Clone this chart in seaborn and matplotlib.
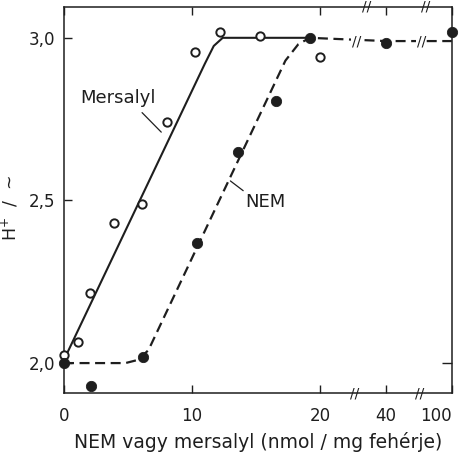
import numpy as np
import pandas as pd
import seaborn as sns
import matplotlib.pyplot as plt

# mért pontok (leolvasva)
mers_x = [0, 1.1, 2.0, 3.9, 6.1, 8.05, 10.2, 12.2, 15.3, 20.1]
mers_y = [2.025, 2.065, 2.215, 2.43, 2.49, 2.74, 2.957, 3.018, 3.006, 2.94]
nem_x = [0, 2.1, 6.2, 10.4, 13.6, 16.6, 19.2, 40, 100]
nem_y = [2.0, 1.93, 2.018, 2.37, 2.65, 2.806, 3.0, 2.985, 3.018]

# illesztett görbék töréspontjai
mers_line_x = [0, 11.0, 11.7, 12.4, 19.3]
mers_line_y = [2.01, 2.92, 2.975, 3.0, 3.0]
nem_line_x = [0, 4.8, 5.8, 6.6, 17.3, 18.3, 19.2, 40, 100]
nem_line_y = [2.0, 2.0, 2.01, 2.04, 2.93, 2.98, 3.0, 2.99, 2.99]

xticks = [0, 10, 20, 40, 100]
xtick_labels = ['0', '10', '20', '40', '100']
yticks = [2.0, 2.5, 3.0]
ytick_labels = ['2,0', '2,5', '3,0']

INK = '#1e1e1e'

# törött x tengely: 0-20 lineáris, 20-40 és 40-100 összenyomva
_xp = np.array([0, 20, 40, 100])
_fp = np.array([0, 20, 25.16, 30.3])


def fwd(x):
    return np.interp(x, _xp, _fp)


def inv(x):
    return np.interp(x, _fp, _xp)


sns.set_style("ticks")
plt.rcParams['font.family'] = ['DejaVu Sans']
plt.rcParams['text.color'] = INK
plt.rcParams['axes.labelcolor'] = INK

fig = plt.figure(figsize=(4.62, 4.61), dpi=100)
ax = fig.add_axes([0.1385, 0.1475, 0.978 - 0.1385, 0.985 - 0.1475])
ax.set_xscale('function', functions=(fwd, inv))

df_ml = pd.DataFrame({'x': mers_line_x, 'y': mers_line_y})
df_nl = pd.DataFrame({'x': nem_line_x, 'y': nem_line_y})
sns.lineplot(data=df_ml, x='x', y='y', sort=False, color=INK, lw=1.5, ax=ax)
sns.lineplot(data=df_nl, x='x', y='y', sort=False, color=INK, lw=1.6,
             dashes=False, ax=ax, linestyle=(0, (4.5, 2.5)))

df_m = pd.DataFrame({'x': mers_x, 'y': mers_y})
df_n = pd.DataFrame({'x': nem_x, 'y': nem_y})
sns.scatterplot(data=df_m, x='x', y='y', marker='o', s=36, facecolor='white',
                edgecolor=INK, linewidth=1.4, ax=ax, zorder=5, clip_on=False)
sns.scatterplot(data=df_n, x='x', y='y', marker='o', s=55, color=INK,
                edgecolor=INK, ax=ax, zorder=5, clip_on=False)

ax.set_xlim(0, 100)
ax.set_ylim(1.908, 3.095)
ax.set_xticks(xticks)
ax.set_xticklabels(xtick_labels)
ax.set_yticks(yticks)
ax.set_yticklabels(ytick_labels)
ax.xaxis.set_minor_locator(plt.NullLocator())
ax.tick_params(axis='both', direction='in', length=6, width=1, colors=INK,
               labelsize=12, top=True, right=False)
ax.tick_params(axis='x', pad=10)
ax.tick_params(axis='y', pad=6)
ax.get_xticklabels()[-1].set_horizontalalignment('right')
for side in ['left', 'right', 'top', 'bottom']:
    ax.spines[side].set_visible(True)
    ax.spines[side].set_color(INK)
    ax.spines[side].set_linewidth(1.1)

# jobb oldali jel a 2,0-nál
ax.plot([100], [2.0], marker=0, color=INK, ms=7, mew=1, clip_on=False)

# törésjelek
for xb in [30.5, 71]:
    ax.text(xb, 1.908, '//', ha='center', va='center', fontsize=10, color=INK,
            clip_on=False)
for xb in [34, 76]:
    ax.text(xb, 3.095, '//', ha='center', va='center', fontsize=10, color=INK,
            clip_on=False)
for xb in [31, 72]:
    ax.text(xb, 2.99, '//', ha='center', va='center', fontsize=10, color=INK,
            bbox=dict(boxstyle='square,pad=0.05', fc='white', ec='none'))

# feliratok
ax.text(4.2, 2.815, 'Mersalyl', ha='center', va='center', fontsize=13)
ax.plot([6.1, 7.6], [2.77, 2.71], color=INK, lw=0.9)
ax.text(15.7, 2.495, 'NEM', ha='center', va='center', fontsize=13)
ax.plot([13.0, 14.0], [2.56, 2.53], color=INK, lw=0.9)

ax.set_xlabel('NEM vagy mersalyl (nmol / mg fehérje)', fontsize=13.5, labelpad=5)
ax.set_ylabel('H$^{+}$  /  ~', fontsize=12.5)
ax.yaxis.set_label_coords(-0.113, 0.48)

fig.savefig('out.png', dpi=100, facecolor='white')
plt.close(fig)
